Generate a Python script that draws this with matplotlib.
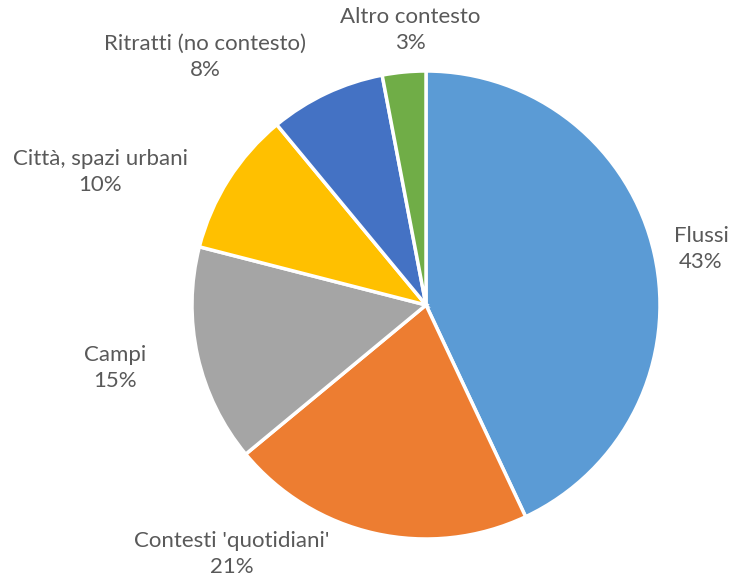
import matplotlib
matplotlib.use("Agg")
import matplotlib.pyplot as plt

plt.rcParams['font.family'] = ['Lato', 'DejaVu Sans']

# categories and shares (%)
labels = ["Flussi", "Contesti 'quotidiani'", "Campi", "Città, spazi urbani",
          "Ritratti (no contesto)", "Altro contesto"]
shares = [43, 21, 15, 10, 8, 3]
colors = ["#5B9BD5", "#ED7D31", "#A5A5A5", "#FFC000", "#4472C4", "#70AD47"]

# where each label sits, in pie-radius units
label_pos = [(1.175, 0.240), (-0.829, -1.064), (-1.329, -0.269),
             (-1.393, 0.568), (-0.944, 1.060), (-0.068, 1.175)]

fig = plt.figure(figsize=(7.3, 5.81), dpi=100)
ax = fig.add_axes([0, 0, 1, 1])

ax.pie(shares, colors=colors, startangle=90, counterclock=False, radius=1,
       wedgeprops=dict(edgecolor="white", linewidth=2.5))

for lab, val, (x, y) in zip(labels, shares, label_pos):
    ax.text(x, y, f"{lab}\n{val}%", ha="center", va="center",
            fontsize=16, color="#595959", linespacing=1.4)

ax.set_xlim(-426 / 234, (730 - 426) / 234)
ax.set_ylim(-(581 - 305) / 234, 305 / 234)
ax.set_aspect("equal")
ax.axis("off")

fig.savefig("out.png", dpi=100, facecolor="white")
